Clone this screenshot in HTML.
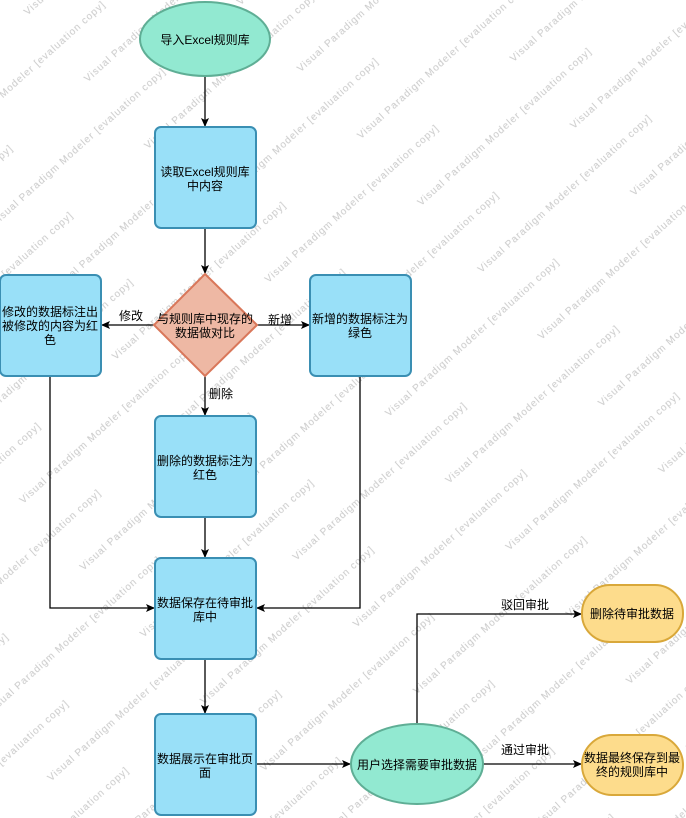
<!DOCTYPE html>
<html><head><meta charset="utf-8"><style>
html,body{margin:0;padding:0;background:#fff;}
svg{display:block;}
text{font-family:"Liberation Sans","Noto Sans CJK SC",sans-serif;}
</style></head><body>
<svg width="686" height="818" viewBox="0 0 686 818" xmlns="http://www.w3.org/2000/svg">
<defs>
<pattern id="wm" width="330" height="90" patternUnits="userSpaceOnUse" patternTransform="rotate(-42)">
<text x="10" y="30" font-size="10" fill="#c8c8c8" letter-spacing="1">Visual Paradigm Modeler [evaluation copy]</text>
<text x="-155" y="75" font-size="10" fill="#c8c8c8" letter-spacing="1">Visual Paradigm Modeler [evaluation copy]</text>
<text x="175" y="75" font-size="10" fill="#c8c8c8" letter-spacing="1">Visual Paradigm Modeler [evaluation copy]</text>
</pattern>
<marker id="ar" markerWidth="10" markerHeight="10" refX="9" refY="5" orient="auto" markerUnits="userSpaceOnUse">
<path d="M1,1 L10,5 L1,9 L3,5 Z" fill="#000"/>
</marker>
</defs>
<rect width="686" height="818" fill="url(#wm)"/>

<g stroke="#000" stroke-width="1.3" fill="none">
<line x1="205" y1="76" x2="205" y2="126" marker-end="url(#ar)"/>
<line x1="205" y1="228" x2="205" y2="273" marker-end="url(#ar)"/>
<line x1="154" y1="325" x2="102" y2="325" marker-end="url(#ar)"/>
<line x1="257" y1="325" x2="309" y2="325" marker-end="url(#ar)"/>
<line x1="205" y1="376" x2="205" y2="415" marker-end="url(#ar)"/>
<line x1="205" y1="517" x2="205" y2="557" marker-end="url(#ar)"/>
<polyline points="50,376 50,608 154,608" marker-end="url(#ar)"/>
<polyline points="360,376 360,608 257,608" marker-end="url(#ar)"/>
<line x1="205" y1="659" x2="205" y2="713" marker-end="url(#ar)"/>
<line x1="256" y1="764" x2="350" y2="764" marker-end="url(#ar)"/>
<polyline points="417,725 417,614 581,614" marker-end="url(#ar)"/>
<line x1="481" y1="764" x2="581" y2="764" marker-end="url(#ar)"/>
</g>

<ellipse cx="205" cy="39" rx="65" ry="37" fill="#92e9d1" stroke="#5fae95" stroke-width="2"/>
<g fill="#99e0f8" stroke="#3a8fb3" stroke-width="2">
<rect x="155" y="127" width="101" height="101" rx="6"/>
<rect x="0" y="275" width="101" height="101" rx="6"/>
<rect x="310" y="275" width="101" height="101" rx="6"/>
<rect x="155" y="416" width="101" height="101" rx="6"/>
<rect x="155" y="558" width="101" height="101" rx="6"/>
<rect x="155" y="714" width="101" height="101" rx="6"/>
</g>
<polygon points="205,274 257,325 205,376 154,325" fill="#eeb8a4" stroke="#d9775a" stroke-width="2"/>
<ellipse cx="417" cy="764" rx="66" ry="40" fill="#92e9d1" stroke="#5fae95" stroke-width="2"/>
<rect x="582" y="585" width="101" height="57" rx="28" fill="#fddc8c" stroke="#d9a83a" stroke-width="2"/>
<rect x="582" y="735" width="101" height="60" rx="30" fill="#fddc8c" stroke="#d9a83a" stroke-width="2"/>

<g font-size="12" fill="#000" text-anchor="middle">
<text x="205" y="44">导入Excel规则库</text>
<text x="205" y="176">读取Excel规则库</text>
<text x="205" y="190">中内容</text>
<text x="205" y="323">与规则库中现存的</text>
<text x="205" y="337">数据做对比</text>
<text x="50" y="316">修改的数据标注出</text>
<text x="50" y="330">被修改的内容为红</text>
<text x="50" y="344">色</text>
<text x="360" y="323">新增的数据标注为</text>
<text x="360" y="337">绿色</text>
<text x="205" y="465">删除的数据标注为</text>
<text x="205" y="479">红色</text>
<text x="205" y="607">数据保存在待审批</text>
<text x="205" y="621">库中</text>
<text x="205" y="763">数据展示在审批页</text>
<text x="205" y="777">面</text>
<text x="417" y="769">用户选择需要审批数据</text>
<text x="632" y="618">删除待审批数据</text>
<text x="632" y="762">数据最终保存到最</text>
<text x="632" y="776">终的规则库中</text>
<text x="131" y="320">修改</text>
<text x="280" y="324">新增</text>
<text x="221" y="398">删除</text>
<text x="525" y="609">驳回审批</text>
<text x="525" y="754">通过审批</text>
</g>
</svg>
</body></html>
